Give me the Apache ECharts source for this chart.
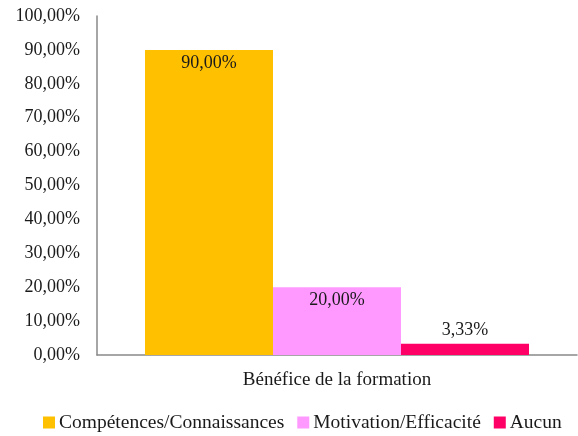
<!DOCTYPE html>
<html><head><meta charset="utf-8">
<script src="https://cdn.jsdelivr.net/npm/echarts@6/dist/echarts.min.js"></script>
<style>html,body{margin:0;padding:0;background:#fff}#c{width:578px;height:436px}</style>
</head><body><div id="c"></div>
<script>
const categories = ["Bénéfice de la formation"];
const seriesNames = ["Compétences/Connaissances", "Motivation/Efficacité", "Aucun"];
const competences = [90.00];
const motivation = [20.00];
const aucun = [3.33];
const colors = ["#FFC000", "#FF99FF", "#FF0066"];
const yTicks = [0,10,20,30,40,50,60,70,80,90,100];

const FONT = "'Liberation Serif', serif";
const FN = 18;   // numbers
const FT = 19;   // axis words
const FL = 19.5; // legend words
const fmt = v => v.toFixed(2).replace('.', ',') + '%';
const chart = echarts.init(document.getElementById('c'), null, {renderer: 'canvas'});
const labelStyle = (pos) => ({show: true, position: pos, distance: 4, color: '#1a1a1a', fontFamily: FONT, fontSize: FN,
  formatter: p => fmt(p.value)});
chart.setOption({
  animation: false,
  textStyle: {fontFamily: FONT},
  grid: {left: 97, right: 1, top: 16, bottom: 81, containLabel: false},
  legend: {
    top: 412, left: 43, itemWidth: 12, itemHeight: 12, itemGap: 13, padding: 0,
    icon: 'rect',
    textStyle: {fontFamily: FONT, fontSize: FL, lineHeight: 21, color: '#1a1a1a', padding: [0,0,0,-1]},
    data: seriesNames
  },
  xAxis: {
    type: 'category', data: categories,
    axisLine: {lineStyle: {color: '#898989', width: 1.5}},
    axisTick: {show: false},
    axisLabel: {color: '#1a1a1a', fontFamily: FONT, fontSize: FT, margin: 16}
  },
  yAxis: {
    type: 'value', min: 0, max: 100, interval: 10,
    axisLine: {show: true, lineStyle: {color: '#898989', width: 1.5}},
    axisTick: {show: false},
    splitLine: {show: false},
    axisLabel: {color: '#1a1a1a', fontFamily: FONT, fontSize: FN, margin: 17,
      formatter: v => yTicks.includes(v) ? fmt(v) : ''}
  },
  series: [
    {name: seriesNames[0], type: 'bar', data: competences, itemStyle: {color: colors[0]}, barGap: '0%', barCategoryGap: '20%', label: labelStyle('insideTop')},
    {name: seriesNames[1], type: 'bar', data: motivation, itemStyle: {color: colors[1]}, barGap: '0%', barCategoryGap: '20%', label: labelStyle('insideTop')},
    {name: seriesNames[2], type: 'bar', data: aucun, itemStyle: {color: colors[2]}, barGap: '0%', barCategoryGap: '20%', label: labelStyle('top')}
  ]
});
</script></body></html>
